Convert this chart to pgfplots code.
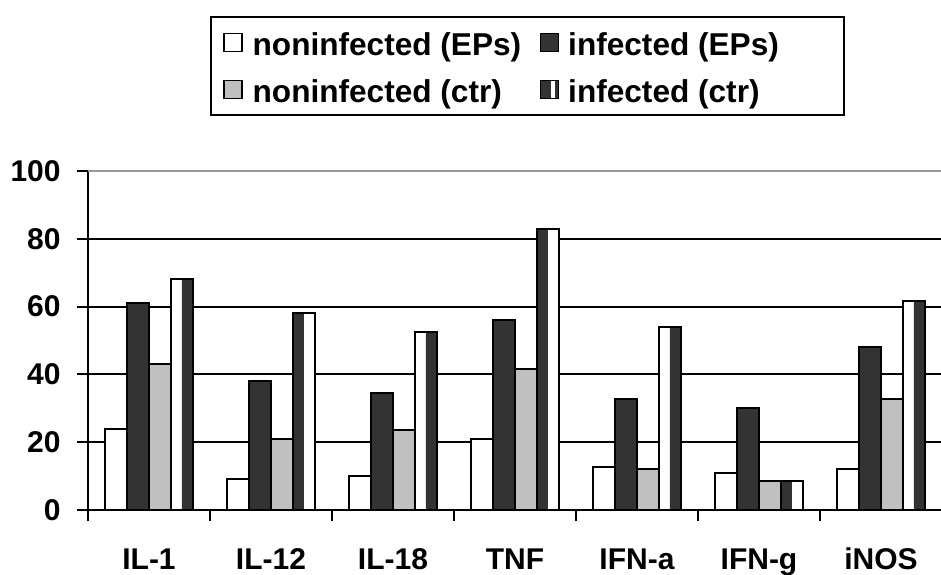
\documentclass[border=0pt]{standalone}
\usepackage{pgfplots}
\pgfplotsset{compat=1.18}
\usepackage{fontspec}
\setmainfont{Liberation Sans}
\definecolor{darkbar}{HTML}{333333}
\definecolor{greybar}{HTML}{C0C0C0}
\pgfplotstableread{
x nEP iEP nctr ictr
0 24 61 43 68
1 9 38 21 58
2 10 34.5 23.6 52.5
3 21 56 41.6 83
4 12.7 32.7 12 54
5 10.9 30.1 8.7 8.7
6 12.1 48.2 32.7 61.7
}\datatable
\pgfplotstableread{
x v
0 68
2 52.5
4 54
6 61.7
}\darkright
\pgfplotstableread{
x v
1 58
3 83
5 8.7
}\darkleft
\newcommand{\legA}[1]{\makebox[148.5pt][l]{\hspace{5pt}#1}}
\newcommand{\legB}[1]{\makebox[136.5pt][l]{\hspace{4.5pt}#1}}
\begin{document}
\begin{tikzpicture}
\useasboundingbox (-44pt,-32pt) rectangle (426.5pt,255pt);
\begin{axis}[
  at={(0pt,0pt)}, anchor=south west,
  width=427pt, height=169.5pt, scale only axis,
  xmin=-0.5, xmax=6.5, ymin=0, ymax=100,
  axis x line*=bottom, axis y line*=left,
  axis line style={line width=1pt,-},
  xtick={-0.5,0.5,...,6.5},
  x tick label as interval,
  xticklabels={IL-1,IL-12,IL-18,TNF,IFN-a,IFN-g,iNOS},
  ytick={0,20,40,60,80},
  extra y ticks={100},
  extra y tick style={grid style={gray!80,line width=1pt}},
  tick align=outside,
  major tick length=5.5pt,
  tick style={line width=1pt,black},
  ymajorgrids,
  grid style={black,line width=1pt},
  /pgf/number format/assume math mode=true,
  ticklabel style={font=\fontsize{15}{18}\selectfont\bfseries},
  yticklabel style={inner sep=0pt, xshift=-8pt},
  xticklabel style={inner sep=0pt, yshift=-13pt, anchor=north, text height=11pt, text depth=3pt},
  bar width=11pt,
  ybar=0pt,
  legend columns=2,
  legend cell align=left,
  legend style={at={(0.1429,1.4572)}, anchor=north west, draw=black, line width=1pt,
    font=\fontsize{15.8}{19}\selectfont\bfseries,
    inner xsep=6pt, inner ysep=1pt,
    nodes={inner sep=0pt, text height=18pt, text depth=5.5pt},
    row sep=0pt, column sep=0pt,
    /tikz/every even column/.append style={column sep=0pt},
    /tikz/every odd column/.append style={column sep=0pt}},
]
\addplot[fill=white, draw=black, line width=1pt, bar shift=-16.5pt,
  legend image code/.code={\path[fill=white,draw=black,line width=0.8pt] (0pt,-4.5pt) rectangle (9pt,4.5pt);}]
  table[x=x,y=nEP]{\datatable};
\addlegendentry{\legA{noninfected (EPs)}}
\addplot[fill=darkbar, draw=black, line width=1pt, bar shift=-5.5pt,
  legend image code/.code={\path[fill=darkbar,draw=black,line width=0.8pt] (0pt,-4.5pt) rectangle (9pt,4.5pt);}]
  table[x=x,y=iEP]{\datatable};
\addlegendentry{\legB{infected (EPs)}}
\addplot[fill=greybar, draw=black, line width=1pt, bar shift=5.5pt,
  legend image code/.code={\path[fill=greybar,draw=black,line width=0.8pt] (0pt,-4.5pt) rectangle (9pt,4.5pt);}]
  table[x=x,y=nctr]{\datatable};
\addlegendentry{\legA{noninfected (ctr)}}
\addplot[fill=white, draw=none, bar shift=16.5pt,
  legend image code/.code={
    \path[fill=darkbar,draw=none] (0pt,-4.5pt) rectangle (5.5pt,4.5pt);
    \path[fill=white,draw=none] (5.5pt,-4.5pt) rectangle (7.5pt,4.5pt);
    \path[fill=darkbar,draw=none] (7.5pt,-4.5pt) rectangle (9pt,4.5pt);
    \path[draw=black,fill=none,line width=0.8pt] (0pt,-4.5pt) rectangle (9pt,4.5pt);}]
  table[x=x,y=ictr]{\datatable};
\addlegendentry{\legB{infected (ctr)}}
\addplot[forget plot, fill=darkbar, draw=none, bar width=5.5pt, bar shift=19.25pt]
  table[x=x,y=v]{\darkright};
\addplot[forget plot, fill=darkbar, draw=none, bar width=5.5pt, bar shift=13.75pt]
  table[x=x,y=v]{\darkleft};
\addplot[forget plot, fill=none, draw=black, line width=1pt, bar shift=16.5pt]
  table[x=x,y=ictr]{\datatable};
\end{axis}
\end{tikzpicture}
\end{document}
